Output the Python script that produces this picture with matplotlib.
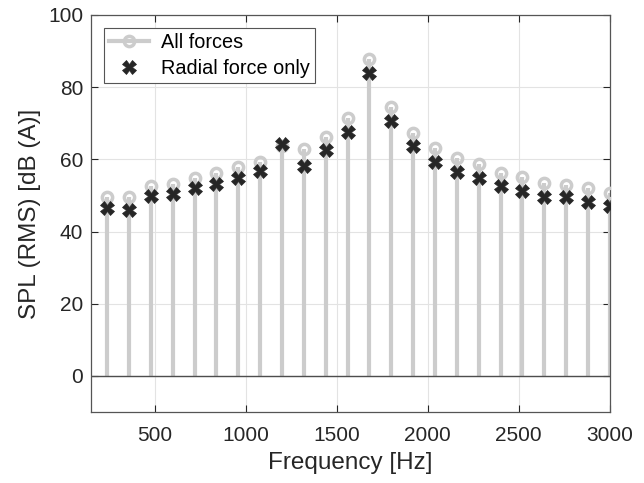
import numpy as np
import matplotlib
matplotlib.use("Agg")
import matplotlib.pyplot as plt
from matplotlib.legend_handler import HandlerLine2D
from matplotlib.lines import Line2D

# ---- data ----
freqs = [240, 360, 480, 600, 720, 840, 960, 1080, 1200, 1320, 1440, 1560,
         1680, 1800, 1920, 2040, 2160, 2280, 2400, 2520, 2640, 2760, 2880, 3000]
spl_all = [49.6, 49.6, 52.5, 53.3, 54.7, 56.1, 57.9, 59.3, 63.6, 62.8, 66.3, 71.4,
           87.7, 74.4, 67.2, 63.2, 60.4, 58.6, 56.3, 55.0, 53.5, 52.9, 52.1, 50.8]
spl_radial = [46.6, 46.1, 49.8, 50.3, 52.0, 53.3, 54.9, 56.8, 64.2, 58.2, 62.6, 67.6,
              84.0, 70.7, 63.8, 59.3, 56.6, 54.7, 52.6, 51.2, 49.6, 49.5, 48.2, 47.1]
xticks = [500, 1000, 1500, 2000, 2500, 3000]
yticks = [0, 20, 40, 60, 80, 100]
labels = ["All forces", "Radial force only"]

plt.rcParams['font.family'] = ['Liberation Sans', 'DejaVu Sans']

fig = plt.figure(figsize=(6.44, 4.83), dpi=100)
ax = fig.add_axes([0.141, 0.147, 0.806, 0.822])

stem_col = '#cccccc'
dark = '#262626'
stem_lw = 3.0
circ_ms = 7.4
circ_mew = 2.5
x_ms = 9.8

ax.vlines(freqs, 0, spl_all, colors=stem_col, linewidth=stem_lw, zorder=2)
ax.plot(freqs, spl_all, linestyle='none', marker='o', markersize=circ_ms,
        markerfacecolor='none', markeredgecolor=stem_col, markeredgewidth=circ_mew, zorder=3)
ax.axhline(0, color='#4d4d4d', linewidth=1.0, zorder=2.5)
ax.plot(freqs, spl_radial, linestyle='none', marker='X', markersize=x_ms,
        color=dark, markeredgecolor=dark, markeredgewidth=0.5, zorder=4)

ax.set_xlim(150, 3000)
ax.set_ylim(-10, 100)
ax.set_xticks(xticks)
ax.set_yticks(yticks)
ax.grid(True, color='#e3e3e3', linewidth=0.8, zorder=0)
ax.set_axisbelow(True)

ax.tick_params(direction='in', top=True, right=True, length=5, width=0.8,
               colors='#262626', labelsize=15)
ax.tick_params(axis='x', pad=10)
ax.tick_params(axis='y', pad=5.5)
for s in ax.spines.values():
    s.set_color('#555555')
    s.set_linewidth(0.9)

ax.set_xlabel('Frequency [Hz]', fontsize=17.5, color='#262626', labelpad=5)
ax.set_ylabel('SPL (RMS) [dB (A)]', fontsize=17.5, color='#262626', labelpad=5)


class StemHandler(HandlerLine2D):
    def get_xdata(self, legend, xdescent, ydescent, width, height, fontsize):
        xdata = np.array([-xdescent, -xdescent + width])
        return xdata, np.array([-xdescent + width - 5])


h1 = Line2D([], [], color=stem_col, linewidth=stem_lw, marker='o', markersize=circ_ms,
            markerfacecolor='none', markeredgecolor=stem_col, markeredgewidth=circ_mew)
h2 = Line2D([], [], linestyle='none', marker='X', markersize=x_ms, color=dark,
            markeredgewidth=0.5)
leg = ax.legend([h1, h2], labels, loc='upper left', fontsize=14.3,
                handler_map={h1: StemHandler(numpoints=1), h2: StemHandler(numpoints=1)},
                handlelength=2.0, handletextpad=0.6, borderpad=0.27, labelspacing=0.35,
                fancybox=False, framealpha=1, edgecolor='#555555',
                borderaxespad=0.64)
leg.get_frame().set_linewidth(0.8)

fig.savefig('out.png', dpi=100)
